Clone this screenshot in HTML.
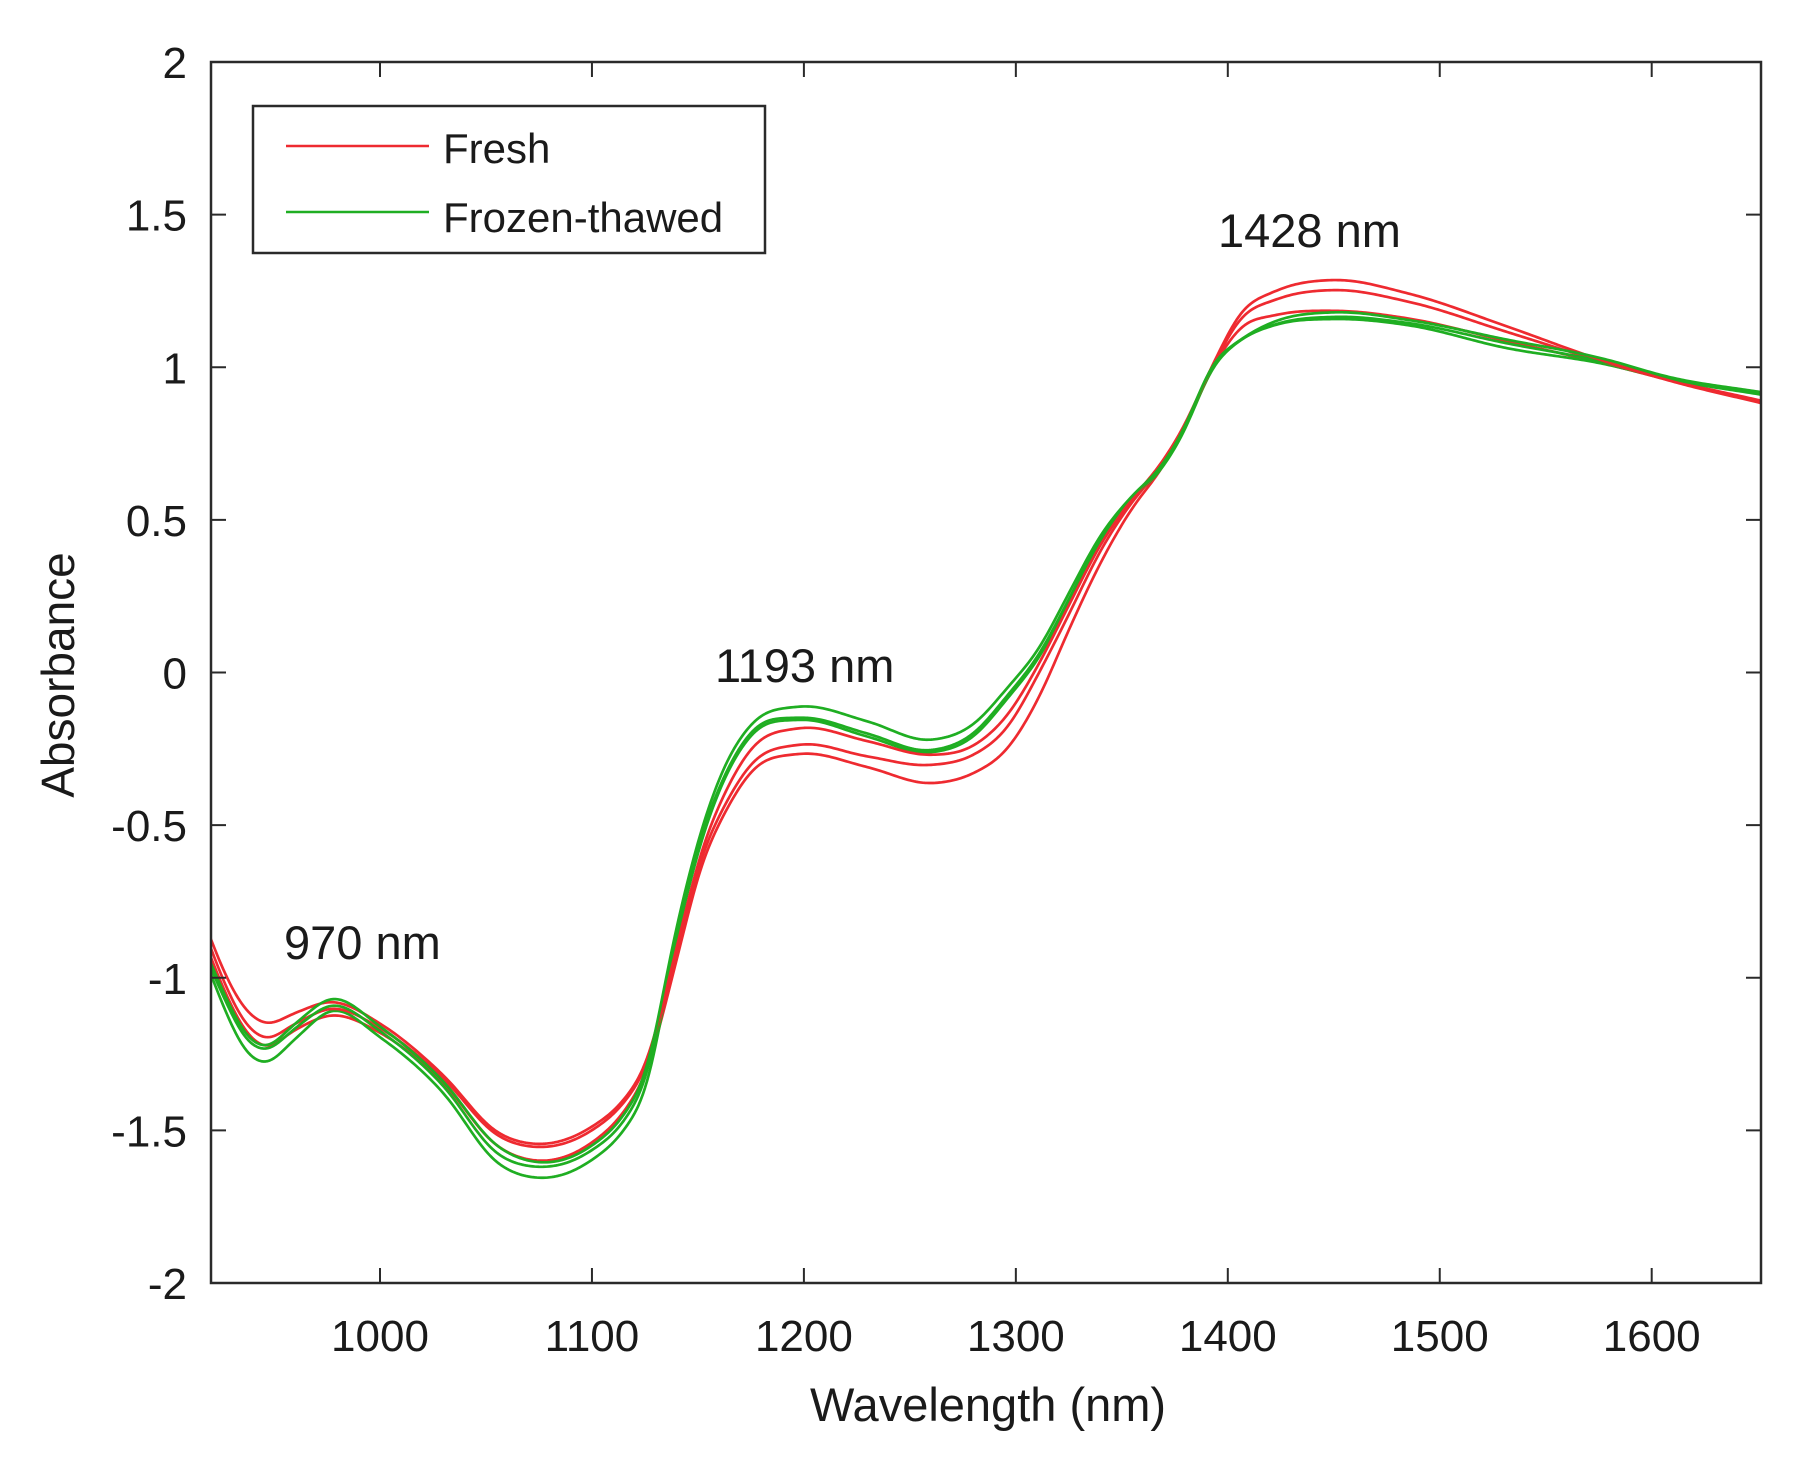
<!DOCTYPE html>
<html>
<head>
<meta charset="utf-8">
<style>
html,body{margin:0;padding:0;background:#fff;}
svg{display:block;}
text{font-family:"Liberation Sans",Arial,sans-serif;fill:#1a1a1a;}
</style>
</head>
<body>
<svg id="chart" width="1817" height="1466" viewBox="0 0 1817 1466" xmlns="http://www.w3.org/2000/svg">
<rect x="0" y="0" width="1817" height="1466" fill="#fff"/>
<defs>
<clipPath id="plotclip"><rect x="211" y="62" width="1550" height="1221"/></clipPath>
</defs>
<g id="curves" clip-path="url(#plotclip)" fill="none" stroke-width="2.7" stroke-linejoin="round"></g>

<!-- axes box -->
<rect x="211" y="62" width="1550" height="1221" fill="none" stroke="#2a2a2a" stroke-width="2.5"/>
<g id="ticks" stroke="#2a2a2a" stroke-width="2"></g>

<!-- y tick labels -->
<g font-size="44" text-anchor="end">
<text x="187" y="78">2</text>
<text x="187" y="230.6">1.5</text>
<text x="187" y="383.3">1</text>
<text x="187" y="535.9">0.5</text>
<text x="187" y="688.5">0</text>
<text x="187" y="841.1">-0.5</text>
<text x="187" y="993.8">-1</text>
<text x="187" y="1146.4">-1.5</text>
<text x="187" y="1299">-2</text>
</g>

<!-- x tick labels -->
<g font-size="44" text-anchor="middle">
<text x="380" y="1351">1000</text>
<text x="591.95" y="1351">1100</text>
<text x="803.9" y="1351">1200</text>
<text x="1015.85" y="1351">1300</text>
<text x="1227.8" y="1351">1400</text>
<text x="1439.75" y="1351">1500</text>
<text x="1651.7" y="1351">1600</text>
</g>

<!-- axis labels -->
<text x="988" y="1421" font-size="47" text-anchor="middle">Wavelength (nm)</text>
<text transform="translate(74,675) rotate(-90)" font-size="46" text-anchor="middle">Absorbance</text>

<!-- annotations -->
<text x="284" y="959" font-size="47">970 nm</text>
<text x="715" y="682" font-size="47">1193 nm</text>
<text x="1218" y="247" font-size="47">1428 nm</text>

<!-- legend -->
<rect x="253" y="106" width="512" height="147" fill="#fff" stroke="#2a2a2a" stroke-width="2.5"/>
<line x1="286" y1="146" x2="429" y2="146" stroke="#ee2a30" stroke-width="2.6"/>
<line x1="286" y1="212" x2="429" y2="212" stroke="#1fae22" stroke-width="2.6"/>
<text x="443" y="163" font-size="42">Fresh</text>
<text x="443" y="232" font-size="42">Frozen-thawed</text>
</svg>

<script>
(function(){
  var NS="http://www.w3.org/2000/svg";
  function X(nm){return 380+(nm-1000)*2.1195;}
  function Y(v){return 672.5-v*305.25;}
  var tg=document.getElementById("ticks");
  function ln(x1,y1,x2,y2){var l=document.createElementNS(NS,"line");l.setAttribute("x1",x1);l.setAttribute("y1",y1);l.setAttribute("x2",x2);l.setAttribute("y2",y2);tg.appendChild(l);}
  for(var nm=1000;nm<=1600;nm+=100){var x=X(nm);ln(x,1283,x,1268);ln(x,62,x,77);}
  for(var v=-1.5;v<=1.51;v+=0.5){var y=Y(v);ln(211,y,226,y);ln(1761,y,1746,y);}

  var K=[920,928,936,945,960,977,1000,1030,1055,1075,1100,1115,1125,1140,1151,1163,1175,1197,1230,1260,1280,1296,1311,1325,1340,1355,1368,1378,1393,1406,1422,1450,1485,1532,1576,1610,1652];
  var D=[
  [-0.870,-0.900,-0.930,-0.950,-0.965,-0.985],
  [-1.005,-1.040,-1.065,-1.075,-1.090,-1.125],
  [-1.100,-1.145,-1.170,-1.180,-1.195,-1.235],
  [-1.149,-1.198,-1.226,-1.226,-1.237,-1.280],
  [-1.115,-1.150,-1.170,-1.150,-1.165,-1.200],
  [-1.078,-1.100,-1.122,-1.067,-1.089,-1.106],
  [-1.150,-1.165,-1.180,-1.160,-1.175,-1.195],
  [-1.320,-1.330,-1.345,-1.340,-1.355,-1.378],
  [-1.505,-1.515,-1.550,-1.550,-1.575,-1.605],
  [-1.545,-1.555,-1.600,-1.605,-1.620,-1.656],
  [-1.488,-1.500,-1.540,-1.550,-1.565,-1.597],
  [-1.400,-1.410,-1.440,-1.450,-1.470,-1.500],
  [-1.290,-1.300,-1.320,-1.320,-1.340,-1.375],
  [-0.900,-0.920,-0.940,-0.830,-0.850,-0.870],
  [-0.600,-0.620,-0.645,-0.530,-0.550,-0.565],
  [-0.390,-0.430,-0.455,-0.300,-0.330,-0.340],
  [-0.250,-0.300,-0.325,-0.170,-0.195,-0.205],
  [-0.183,-0.237,-0.267,-0.112,-0.148,-0.155],
  [-0.225,-0.275,-0.310,-0.160,-0.200,-0.210],
  [-0.270,-0.303,-0.363,-0.221,-0.255,-0.262],
  [-0.240,-0.270,-0.330,-0.170,-0.200,-0.210],
  [-0.140,-0.180,-0.250,-0.050,-0.075,-0.085],
  [0.030,0.000,-0.080,0.080,0.060,0.050],
  [0.220,0.190,0.140,0.260,0.240,0.230],
  [0.420,0.400,0.360,0.450,0.440,0.430],
  [0.570,0.560,0.540,0.580,0.575,0.570],
  [0.680,0.670,0.660,0.670,0.665,0.660],
  [0.790,0.785,0.780,0.780,0.775,0.770],
  [1.010,1.005,1.000,1.010,1.005,1.000],
  [1.178,1.160,1.130,1.090,1.090,1.089],
  [1.248,1.220,1.170,1.150,1.140,1.138],
  [1.286,1.253,1.185,1.180,1.165,1.158],
  [1.242,1.215,1.160,1.155,1.145,1.138],
  [1.133,1.115,1.085,1.090,1.078,1.062],
  [1.024,1.020,1.015,1.030,1.020,1.013],
  [0.953,0.955,0.955,0.965,0.960,0.958],
  [0.882,0.885,0.890,0.918,0.915,0.910]];

  function sampler(c){
    var n=K.length,y=[],m=[];
    for(var i=0;i<n;i++)y.push(D[i][c]);
    for(var i=0;i<n;i++){
      if(i==0){m.push((y[1]-y[0])/(K[1]-K[0]));}
      else if(i==n-1){m.push((y[n-1]-y[n-2])/(K[n-1]-K[n-2]));}
      else{
        var h0=K[i]-K[i-1],h1=K[i+1]-K[i];
        var s0=(y[i]-y[i-1])/h0,s1=(y[i+1]-y[i])/h1;
        m.push((s0*h1+s1*h0)/(h0+h1));
      }
    }
    return function(nm){
      var i=0;
      while(i<n-2 && nm>K[i+1])i++;
      var h=K[i+1]-K[i],t=(nm-K[i])/h;
      if(t<0)t=0; if(t>1)t=1;
      var t2=t*t,t3=t2*t;
      return (2*t3-3*t2+1)*y[i]+(t3-2*t2+t)*h*m[i]+(-2*t3+3*t2)*y[i+1]+(t3-t2)*h*m[i+1];
    };
  }
  function curve(c){
    var f=sampler(c),step=0.5,xs=[],ys=[];
    for(var nm=920;nm<=1652.001;nm+=step){xs.push(nm);ys.push(f(nm));}
    var sig=3.2/step,R=Math.ceil(sig*3),w=[];
    for(var k=-R;k<=R;k++)w.push(Math.exp(-k*k/(2*sig*sig)));
    var N=ys.length,sm=[];
    for(var i=0;i<N;i++){
      var r=Math.min(R,i,N-1-i),s=0,ws=0;
      for(var k=-r;k<=r;k++){s+=ys[i+k]*w[k+R];ws+=w[k+R];}
      sm.push(s/ws);
    }
    var pts=[];
    for(var i=0;i<N;i+=2)pts.push(X(xs[i]).toFixed(2)+","+Y(sm[i]).toFixed(2));
    pts.push(X(xs[N-1]).toFixed(2)+","+Y(sm[N-1]).toFixed(2));
    return "M"+pts.join(" L");
  }
  var g=document.getElementById("curves");
  var order=[2,5,1,4,0,3];
  for(var k=0;k<order.length;k++){
    var c=order[k];
    var p=document.createElementNS(NS,"path");
    p.setAttribute("d",curve(c));
    p.setAttribute("stroke",c<3?"#ee2a30":"#1fae22");
    g.appendChild(p);
  }
})();
</script>
</body>
</html>
